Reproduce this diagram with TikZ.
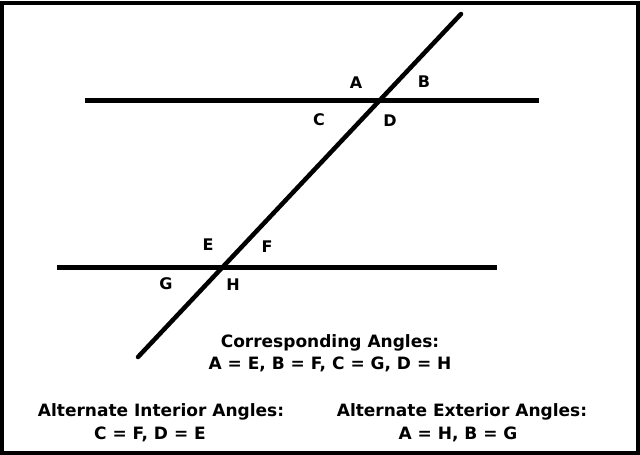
\documentclass[tikz,border=0pt]{standalone}
\usepackage{fontspec}
\setmainfont{DejaVu Sans}
\begin{document}
\begin{tikzpicture}[x=1pt,y=-1pt,
  lbl/.style={font=\fontsize{16}{18}\selectfont\bfseries, inner sep=0pt},
  txt/.style={font=\fontsize{17}{19}\selectfont\bfseries, inner sep=0pt, anchor=base},
  ln/.style={line width=4.5pt},
  ]
\useasboundingbox (0,0) rectangle (640,455);
\draw[line width=4pt] (2,3) rectangle (638,453);
\coordinate (h1a) at (85,100.5);
\coordinate (h1b) at (539,100.5);
\coordinate (h2a) at (57,267.5);
\coordinate (h2b) at (497,267.5);
\coordinate (t1) at (461,14);
\coordinate (t2) at (138,357);
\draw[ln] (h1a) -- (h1b);
\draw[ln] (h2a) -- (h2b);
\draw[ln, line cap=round] (t1) -- (t2);
\node[lbl] (A) at (356,83) {A};
\node[lbl] (B) at (424,82) {B};
\node[lbl] (C) at (319,120) {C};
\node[lbl] (D) at (390,121) {D};
\node[lbl] (E) at (208,245) {E};
\node[lbl] (F) at (267,247) {F};
\node[lbl] (G) at (166,284) {G};
\node[lbl] (H) at (233,285) {H};
\node[txt] (corr) at (330,347) {Corresponding Angles:};
\node[txt] (corrv) at (330,369) {A = E, B = F, C = G, D = H};
\node[txt] (aint) at (161,416) {Alternate Interior Angles:};
\node[txt] (aintv) at (150,439) {C = F, D = E};
\node[txt] (aext) at (462,416) {Alternate Exterior Angles:};
\node[txt] (aextv) at (458,439) {A = H, B = G};
\end{tikzpicture}
\end{document}
